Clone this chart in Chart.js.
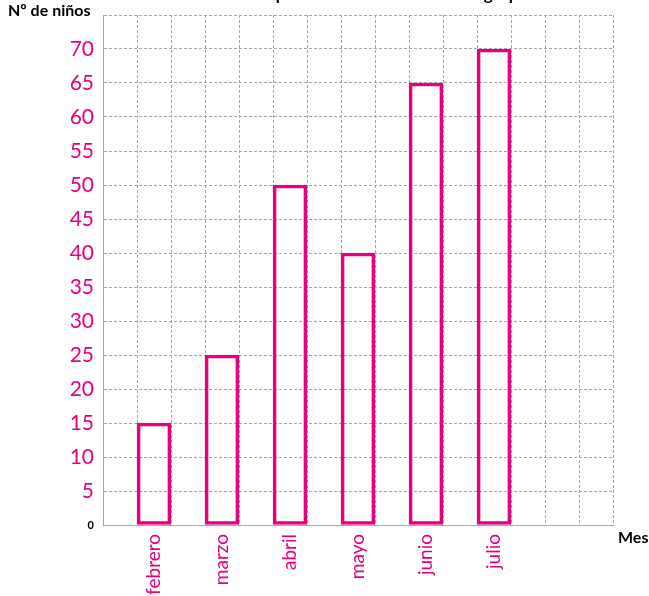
<!DOCTYPE html>
<html lang="es">
<head>
    <meta charset="UTF-8">
    <title>Nº de niños por mes</title>
    <script src="https://cdn.jsdelivr.net/npm/chart.js"></script>
    <style>
        html, body { margin: 0; padding: 0; background: #fff; }
        canvas { display: block; }
    </style>
</head>
<body>
    <canvas id="grafico" width="649" height="596"></canvas>
    <script>
        // Datos del gráfico
        const meses = ['febrero', 'marzo', 'abril', 'mayo', 'junio', 'julio'];
        const ninos = [15, 25, 50, 40, 65, 70];
        const marcasY = [0, 5, 10, 15, 20, 25, 30, 35, 40, 45, 50, 55, 60, 65, 70, 75];

        const rosa = '#e6007e';
        const gris = '#a6a6a6';
        const fuente = 'Lato, Calibri, "Open Sans", sans-serif';

        // La cuadrícula tiene 15 columnas; cada mes ocupa una columna, dejando una vacía entre medio
        const columnas = 15;
        const etiquetas = [];
        const valores = [];
        for (let i = 0; i < columnas; i++) {
            const k = (i - 1) / 2;
            if (i % 2 === 1 && k < meses.length) {
                etiquetas.push(meses[k]);
                valores.push(ninos[k]);
            } else {
                etiquetas.push('');
                valores.push(null);
            }
        }

        // Textos fuera del área del gráfico: título y nombres de los ejes
        const textosEjes = {
            id: 'textosEjes',
            afterDraw(chart) {
                const ctx = chart.ctx;
                const area = chart.chartArea;
                ctx.save();
                ctx.fillStyle = '#000';
                ctx.textBaseline = 'alphabetic';

                ctx.font = 'bold 17px ' + fuente;
                ctx.textAlign = 'center';
                ctx.fillText('Niños que se inscribieron al nuevo grupo', 375, 0);

                ctx.font = 'bold 16px ' + fuente;
                ctx.textAlign = 'left';
                ctx.fillText('Nº de niños', 8, 16);
                ctx.fillText('Meses', area.right + 5, area.bottom + 18);
                ctx.restore();
            }
        };

        const ctx = document.getElementById('grafico').getContext('2d');
        new Chart(ctx, {
            type: 'bar',
            data: {
                labels: etiquetas,
                datasets: [{
                    data: valores,
                    backgroundColor: 'rgba(255, 255, 255, 0)',
                    borderColor: rosa,
                    borderWidth: 3,
                    borderSkipped: false,
                    barPercentage: 1,
                    categoryPercentage: 1
                }]
            },
            options: {
                responsive: false,
                animation: false,
                layout: { padding: { top: 15, right: 36, left: 0, bottom: 0 } },
                plugins: {
                    legend: { display: false },
                    tooltip: { enabled: false }
                },
                scales: {
                    x: {
                        grid: {
                            color: gris,
                            offset: true,
                            drawTicks: false
                        },
                        border: { color: gris, dash: [3, 2] },
                        ticks: {
                            color: rosa,
                            font: { family: fuente, size: 19 },
                            minRotation: 90,
                            maxRotation: 90,
                            autoSkip: false,
                            padding: 9
                        },
                        afterFit(scale) {
                            scale.height = 71;
                            scale.paddingLeft = 0;
                            scale.paddingRight = 0;
                        }
                    },
                    y: {
                        min: 0,
                        max: 75,
                        afterBuildTicks(scale) {
                            scale.ticks = marcasY.map(v => ({ value: v }));
                        },
                        grid: {
                            color: gris,
                            drawTicks: false
                        },
                        border: { color: gris, dash: [3, 2] },
                        ticks: {
                            padding: 9,
                            callback: v => (v === 75 ? '' : v),
                            color: c => (c.tick && c.tick.value === 0 ? '#000' : rosa),
                            font: c => (c.tick && c.tick.value === 0
                                ? { family: fuente, size: 11, weight: 'bold' }
                                : { family: fuente, size: 21 })
                        },
                        afterFit(scale) {
                            scale.width = 103;
                            scale.paddingTop = 0;
                            scale.paddingBottom = 0;
                        }
                    }
                }
            },
            plugins: [textosEjes]
        });
    </script>
</body>
</html>
